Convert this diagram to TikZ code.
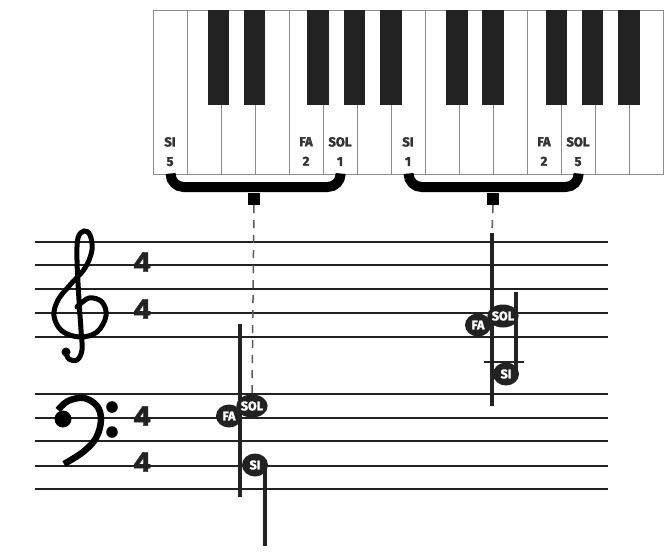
\documentclass[tikz,border=0pt]{standalone}
\usepackage{fontspec}
\setmainfont{Fira Sans}[Numbers=Lining]
\newfontfamily\heavy{Fira Sans}[UprightFont={* Bold}, FakeBold=2, Numbers=Lining]
\newfontfamily\digits{Poppins}[FakeBold=1.5]
\usetikzlibrary{shapes.geometric}
\definecolor{ink}{HTML}{222222}
\definecolor{labelgray}{HTML}{333333}
\definecolor{rim}{HTML}{8C8C8C}
\begin{document}
\begin{tikzpicture}[x=1pt,y=-1pt,%
% common options for the keys:
whitekey/.style = {draw=rim, fill=white, line width=1.2pt, minimum width=34pt,
            minimum height=164pt, anchor=north west, inner sep=0},
blackkey/.style = {fill=ink, minimum width=21.7pt, minimum height=95pt,
            anchor=north west, inner sep=0},
keyname/.style = {text=labelgray, font=\heavy\fontsize{13}{19.5}\selectfont,
            align=center, anchor=north, inner sep=0},
% common options for brackets and guides:
brace/.style = {draw=black, line width=10pt, rounded corners=13pt},
tab/.style = {fill=black, minimum width=12pt, minimum height=12pt, inner sep=0},
guide/.style = {draw=ink!75, line width=1.5pt, dash pattern=on 8pt off 7pt},
% common options for the staff:
staffline/.style = {draw=ink, line width=2pt},
clef/.style = {draw=black, line width=5pt, line cap=round},
meter/.style = {text=ink, font=\digits\bfseries\fontsize{27}{27}\selectfont, inner sep=0},
% common options for the notes:
head/.style = {ellipse, fill=ink, minimum width=26pt, minimum height=23pt, inner sep=0,
            text=white, font=\heavy\fontsize{12.5}{12.5}\selectfont},
stem/.style = {draw=ink, line width=4pt}]
\useasboundingbox (0,0) rectangle (672,555);
% keyboard
\node[whitekey] (W0) at (153,10) {};
\node[whitekey] (W1) at (187,10) {};
\node[whitekey] (W2) at (221,10) {};
\node[whitekey] (W3) at (255,10) {};
\node[whitekey] (W4) at (289,10) {};
\node[whitekey] (W5) at (323,10) {};
\node[whitekey] (W6) at (357,10) {};
\node[whitekey] (W7) at (391,10) {};
\node[whitekey] (W8) at (425,10) {};
\node[whitekey] (W9) at (459,10) {};
\node[whitekey] (W10) at (493,10) {};
\node[whitekey] (W11) at (527,10) {};
\node[whitekey] (W12) at (561,10) {};
\node[whitekey] (W13) at (595,10) {};
\node[whitekey] (W14) at (629,10) {};
\node[blackkey] (B1) at (207.3,10) {};
\node[blackkey] (B2) at (243.3,10) {};
\node[blackkey] (B3) at (307.0,10) {};
\node[blackkey] (B4) at (343.3,10) {};
\node[blackkey] (B5) at (379.7,10) {};
\node[blackkey] (B6) at (445.7,10) {};
\node[blackkey] (B7) at (481.7,10) {};
\node[blackkey] (B8) at (545.3,10) {};
\node[blackkey] (B9) at (581.3,10) {};
\node[blackkey] (B10) at (617.7,10) {};
\node[keyname] (K0) at (170,137) {SI\\5};
\node[keyname] (K4) at (306,137) {FA\\2};
\node[keyname] (K5) at (340,137) {SOL\\1};
\node[keyname] (K7) at (408,137) {SI\\1};
\node[keyname] (K11) at (544,137) {FA\\2};
\node[keyname] (K12) at (578,137) {SOL\\5};
% brackets
\coordinate (BL) at (254,187);
\coordinate (BR) at (493,187);
\draw[brace] (W0.south) |- (BL) -| (W5.south);
\draw[brace] (W7.south) |- (BR) -| (W12.south);
\node[tab] (TL) at (254,199) {};
\node[tab] (TR) at (493,199) {};
% staff
\draw[staffline] (35,242) -- (608,242);
\draw[staffline] (35,265) -- (608,265);
\draw[staffline] (35,289) -- (608,289);
\draw[staffline] (35,313) -- (608,313);
\draw[staffline] (35,337) -- (608,337);
\draw[staffline] (35,394) -- (608,394);
\draw[staffline] (35,418) -- (608,418);
\draw[staffline] (35,441) -- (608,441);
\draw[staffline] (35,466) -- (608,466);
\draw[staffline] (35,489) -- (608,489);
% clefs
\draw[clef] plot[smooth, tension=0.6] coordinates {(77,307) (89,298) (102,302)
  (106,316) (97,332) (80,337) (62,331) (54,316) (58,300) (70,285) (85,268)
  (92,250) (90,235) (84,231) (78,238) (77,260) (79,300) (81,330) (82,350)
  (77,360) (69,359) (66,353)};
\fill[black] (66,352) circle (4.5);
\draw[clef, line width=6.5pt, line cap=butt] plot[smooth, tension=0.6]
  coordinates {(58,410) (68,401) (84,398) (97,406) (101,420) (96,438) (83,452) (64,464)};
\fill[black] (63,419) circle (8.5);
\fill[black] (112,407) circle (5.8);
\fill[black] (112,432) circle (5.8);
\node[meter] (T1) at (142,262) {4};
\node[meter] (T2) at (142,309) {4};
\node[meter] (T3) at (142,416) {4};
\node[meter] (T4) at (142,462) {4};
% left chord
\coordinate (L0) at (240,324);
\coordinate (L1) at (240,497);
\coordinate (L2) at (265,465);
\coordinate (L3) at (265,546);
\draw[stem] (L0) -- (L1);
\draw[stem] (L2) -- (L3);
\node[head] (FA1) at (229,416) {FA};
\node[head] (SOL1) at (252,406) {SOL};
\node[head] (SI1) at (255,465) {SI};
\draw[guide] (TL.south) -- (SOL1.north);
% right chord
\coordinate (R0) at (492,233);
\coordinate (R1) at (492,406);
\coordinate (R2) at (516,292);
\coordinate (R3) at (516,374);
\coordinate (G0) at (484,362);
\coordinate (G1) at (524,362);
\draw[stem] (R0) -- (R1);
\draw[stem] (R2) -- (R3);
\draw[staffline] (G0) -- (G1);
\node[head] (FA2) at (478,325) {FA};
\node[head] (SOL2) at (503,316) {SOL};
\node[head] (SI2) at (506,374) {SI};
\draw[guide] (TR.south) -- (R0);
\end{tikzpicture}
\end{document}
